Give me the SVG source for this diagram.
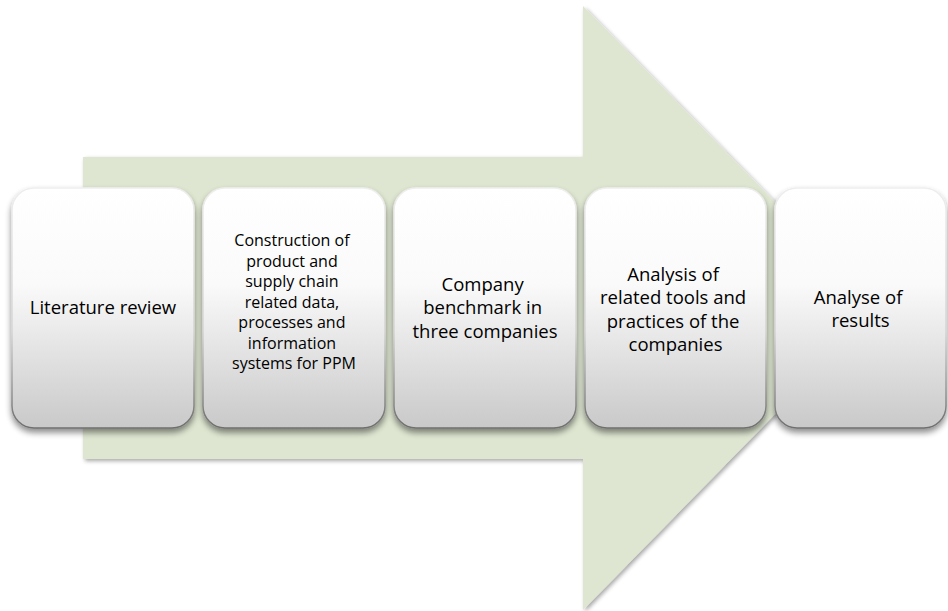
<svg xmlns="http://www.w3.org/2000/svg" width="948" height="611" viewBox="0 0 948 611">
  <defs>
    <linearGradient id="boxFill" x1="0" y1="0" x2="0" y2="1">
      <stop offset="0" stop-color="#ffffff"/>
      <stop offset="0.4" stop-color="#fafafa"/>
      <stop offset="1" stop-color="#c9c9c9"/>
    </linearGradient>
    <linearGradient id="boxEdge" x1="0" y1="0" x2="0" y2="1">
      <stop offset="0" stop-color="#eeeeee"/>
      <stop offset="0.6" stop-color="#d4d4d4"/>
      <stop offset="1" stop-color="#6e6e6e"/>
    </linearGradient>
    <filter id="arrowShadow" x="-5%" y="-5%" width="115%" height="115%">
      <feGaussianBlur in="SourceAlpha" stdDeviation="2"/>
      <feOffset dx="2" dy="2" result="b"/>
      <feComponentTransfer><feFuncA type="linear" slope="0.35"/></feComponentTransfer>
      <feMerge><feMergeNode/><feMergeNode in="SourceGraphic"/></feMerge>
    </filter>
    <filter id="boxShadow" x="-10%" y="-10%" width="125%" height="125%">
      <feGaussianBlur in="SourceAlpha" stdDeviation="3"/>
      <feOffset dx="0" dy="4" result="b"/>
      <feComponentTransfer><feFuncA type="linear" slope="0.45"/></feComponentTransfer>
      <feMerge><feMergeNode/><feMergeNode in="SourceGraphic"/></feMerge>
    </filter>
  </defs>
  <style>
    .box { fill: url(#boxFill); stroke: url(#boxEdge); stroke-width: 1.5; filter: url(#boxShadow); }
    .lbl { font-family: "Open Sans", "Liberation Sans", sans-serif; font-size: 18.5px; fill: #000; text-anchor: middle; }
    .small { font-size: 16px; }
  </style>
  <rect width="948" height="611" fill="#ffffff"/>

  <!-- Background process arrow -->
  <g id="arrow">
    <polygon points="83,157 583,157 583,6 879,308 583,610 583,459 83,459" fill="#dee6d1" filter="url(#arrowShadow)"/>
  </g>

  <g id="connectors"/>

  <g id="step1">
    <rect class="box" x="12" y="188" width="182" height="240" rx="22"/>
    <text class="lbl" x="103" y="314">Literature review</text>
  </g>

  <g id="step2">
    <rect class="box" x="203" y="188" width="182" height="240" rx="22"/>
    <text class="lbl small" x="294" y="246">
      <tspan x="294" dy="0">Construction of</tspan>
      <tspan x="294" dy="20.5">product and</tspan>
      <tspan x="294" dy="20.5">supply chain</tspan>
      <tspan x="294" dy="20.5">related data,</tspan>
      <tspan x="294" dy="20.5">processes and</tspan>
      <tspan x="294" dy="20.5">information</tspan>
      <tspan x="294" dy="20.5">systems for PPM</tspan>
    </text>
  </g>

  <g id="step3">
    <rect class="box" x="394" y="188" width="182" height="240" rx="22"/>
    <text class="lbl" x="485" y="291">
      <tspan x="485" dy="0">Company</tspan>
      <tspan x="485" dy="23.3">benchmark in</tspan>
      <tspan x="485" dy="23.3">three companies</tspan>
    </text>
  </g>

  <g id="step4">
    <rect class="box" x="585" y="188" width="181" height="240" rx="22"/>
    <text class="lbl" x="675.5" y="281">
      <tspan x="675.5" dy="0">Analysis of</tspan>
      <tspan x="675.5" dy="23.3">related tools and</tspan>
      <tspan x="675.5" dy="23.3">practices of the</tspan>
      <tspan x="675.5" dy="23.3">companies</tspan>
    </text>
  </g>

  <g id="step5">
    <rect class="box" x="775" y="188" width="171" height="240" rx="22"/>
    <text class="lbl" x="860.5" y="304">
      <tspan x="860.5" dy="0">Analyse of</tspan>
      <tspan x="860.5" dy="23.3">results</tspan>
    </text>
  </g>
</svg>
